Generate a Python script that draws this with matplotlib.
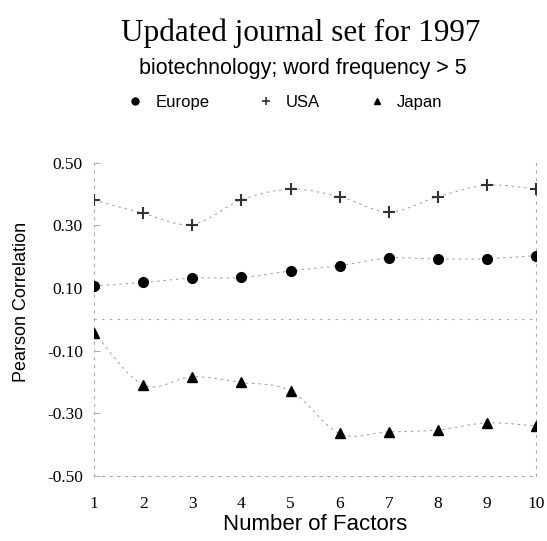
import numpy as np
import matplotlib
matplotlib.use("Agg")
import matplotlib.pyplot as plt
from matplotlib.path import Path
from matplotlib.patches import PathPatch
from matplotlib.lines import Line2D

factors = [1, 2, 3, 4, 5, 6, 7, 8, 9, 10]
europe = [0.107, 0.118, 0.132, 0.134, 0.155, 0.172, 0.196, 0.193, 0.194, 0.204]
usa = [0.381, 0.339, 0.303, 0.382, 0.416, 0.392, 0.343, 0.392, 0.429, 0.416]
japan = [-0.042, -0.209, -0.183, -0.201, -0.228, -0.364, -0.359, -0.353, -0.330, -0.340]

yticks = [-0.5, -0.3, -0.1, 0.1, 0.3, 0.5]
ytick_labels = ["-0.50", "-0.30", "-0.10", "0.10", "0.30", "0.50"]

serif = ["Liberation Serif", "DejaVu Serif"]
sans = ["Liberation Sans", "DejaVu Sans"]


def smooth_path(xs, ys):
    # catmull-rom through the points, drawn as cubic bezier segments
    pts = np.column_stack([np.asarray(xs, float), np.asarray(ys, float)])
    verts = [pts[0]]
    codes = [Path.MOVETO]
    n = len(pts)
    for i in range(n - 1):
        p0 = pts[max(i - 1, 0)]
        p1 = pts[i]
        p2 = pts[i + 1]
        p3 = pts[min(i + 2, n - 1)]
        verts += [p1 + (p2 - p0) / 6.0, p2 - (p3 - p1) / 6.0, p2]
        codes += [Path.CURVE4] * 3
    return Path(verts, codes)


fig = plt.figure(figsize=(5.47, 5.41), dpi=100)
ax = fig.add_axes([0.172, 0.120, 0.808, 0.579])

line_kw = dict(facecolor="none", edgecolor="#9a9a9a", lw=0.7,
               linestyle=(0, (2.5, 4)))
for ys in (europe, usa, japan):
    ax.add_patch(PathPatch(smooth_path(factors, ys), **line_kw))

ax.plot(factors, europe, "o", color="black", ms=7, zorder=3)
ax.plot(factors, usa, "+", color="#333333", ms=9, mew=1.5, zorder=3)
ax.plot(factors, japan, "^", color="black", ms=7, zorder=3)

ax.axhline(0, color="#aaaaaa", lw=0.8, linestyle=(0, (2, 5)))

ax.set_xlim(1, 10)
ax.set_ylim(-0.5, 0.5)
ax.set_xticks(factors)
ax.set_xticklabels([str(f) for f in factors], fontfamily=serif, fontsize=12.5)
ax.set_yticks(yticks)
ax.set_yticklabels(ytick_labels, fontfamily=serif, fontsize=12.5)
ax.tick_params(axis="y", direction="in", length=4, width=0.6, color="#999999", pad=8)
ax.tick_params(axis="x", length=0, pad=14)

ax.spines["top"].set_visible(False)
for side in ("left", "right", "bottom"):
    ax.spines[side].set_color("#aaaaaa")
    ax.spines[side].set_linewidth(0.8)
    ax.spines[side].set_linestyle((0, (2, 5)))

ax.set_xlabel("Number of Factors", fontfamily=sans, fontsize=16)
ax.xaxis.set_label_coords(0.5, -0.12)
ax.set_ylabel("Pearson Correlation", fontfamily=sans, fontsize=13)
ax.yaxis.set_label_coords(-0.145, 0.555)

fig.text(0.55, 0.938, "Updated journal set for 1997", ha="center", va="center",
         fontfamily=serif, fontsize=22.5)
fig.text(0.554, 0.873, "biotechnology; word frequency > 5", ha="center", va="center",
         fontfamily=sans, fontsize=15.5)

handles = [
    Line2D([], [], marker="o", color="black", ls="none", ms=5),
    Line2D([], [], marker="+", color="#333333", ls="none", ms=6, mew=1.2),
    Line2D([], [], marker="^", color="black", ls="none", ms=5),
]
fig.legend(handles, ["Europe", "USA", "Japan"], loc="center",
           bbox_to_anchor=(0.52, 0.81), ncol=3, frameon=False,
           prop={"family": sans, "size": 12}, handletextpad=0.7,
           columnspacing=2.9, handlelength=1.0)

fig.savefig("out.png", dpi=100)
